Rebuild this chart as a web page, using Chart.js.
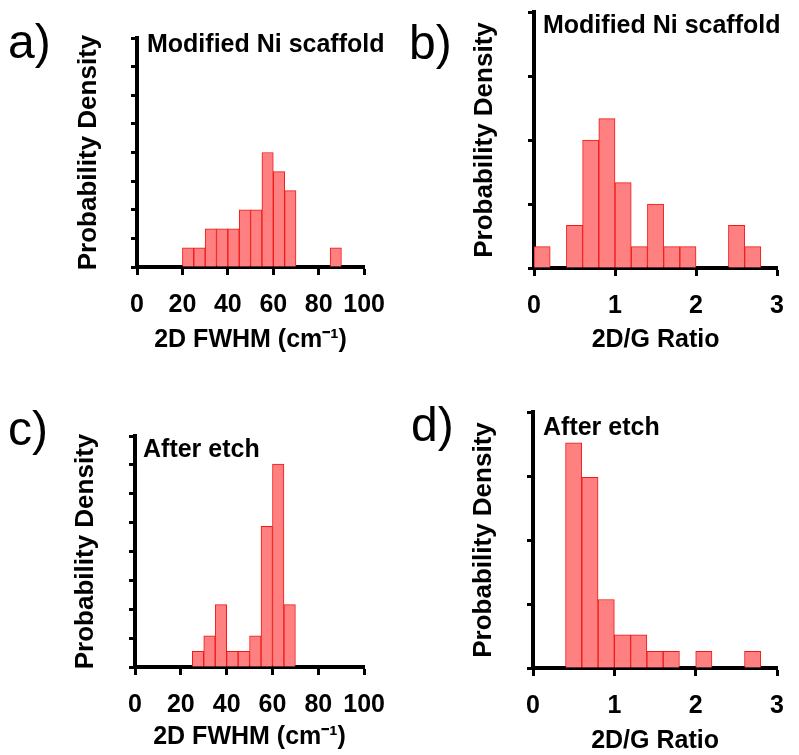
<!DOCTYPE html>
<html>
<head>
<meta charset="utf-8">
<script src="https://cdn.jsdelivr.net/npm/chart.js@4.4.1/dist/chart.umd.min.js"></script>
<style>
  body { margin: 0; width: 799px; height: 755px; overflow: hidden; background: #fff; position: relative;
         font-family: 'Liberation Sans', Arial, sans-serif; color: #000; }
  canvas { position: absolute; }
  .letter { position: absolute; font-size: 48px; line-height: 48px; }
  .inner { position: absolute; font-size: 25px; line-height: 25px; font-weight: bold; white-space: nowrap; }
</style>
</head>
<body>
<canvas id="chart-a" width="400" height="378" style="left:0;top:0"></canvas>
<canvas id="chart-b" width="399" height="378" style="left:400px;top:0"></canvas>
<canvas id="chart-c" width="400" height="377" style="left:0;top:378px"></canvas>
<canvas id="chart-d" width="399" height="377" style="left:400px;top:378px"></canvas>

<div class="letter" style="left:8px;top:18px">a)</div>
<div class="letter" style="left:409px;top:19px">b)</div>
<div class="letter" style="left:8px;top:405px">c)</div>
<div class="letter" style="left:411px;top:401px">d)</div>

<div class="inner" style="left:147px;top:31px">Modified Ni scaffold</div>
<div class="inner" style="left:543px;top:12px">Modified Ni scaffold</div>
<div class="inner" style="left:143px;top:436px">After etch</div>
<div class="inner" style="left:543px;top:414px">After etch</div>

<script>
// a) 2D FWHM, modified Ni scaffold (bin start, probability density)
const fwhmBinsA = [20, 25, 30, 35, 40, 45, 50, 55, 60, 65, 85];
const fwhmDensityA = [0.0067, 0.0067, 0.0133, 0.0133, 0.0133, 0.02, 0.02, 0.04, 0.0333, 0.0267, 0.0067];

// b) 2D/G ratio, modified Ni scaffold
const ratioBinsB = [0, 0.4, 0.6, 0.8, 1.0, 1.2, 1.4, 1.6, 1.8, 2.4, 2.6];
const ratioDensityB = [0.167, 0.333, 1.0, 1.167, 0.667, 0.167, 0.5, 0.167, 0.167, 0.333, 0.167];

// c) 2D FWHM, after etch
const fwhmBinsC = [25, 30, 35, 40, 45, 50, 55, 60, 65];
const fwhmDensityC = [0.0054, 0.0108, 0.0216, 0.0054, 0.0054, 0.0108, 0.0487, 0.0703, 0.0216];

// d) 2D/G ratio, after etch
const ratioBinsD = [0.4, 0.6, 0.8, 1.0, 1.2, 1.4, 1.6, 2.0, 2.6];
const ratioDensityD = [1.76, 1.49, 0.535, 0.26, 0.26, 0.13, 0.13, 0.13, 0.13];

const fwhmAxis = { max: 100, step: 20, bin: 5, title: '2D FWHM (cm\u207B\u00B9)' };
const ratioAxis = { max: 3, step: 1, bin: 0.2, title: '2D/G Ratio' };

Chart.defaults.font.family = "'Liberation Sans', Arial, sans-serif";
Chart.defaults.color = '#000';

function histo(id, bins, density, axis, yMax, yStep, box) {
    const pts = bins.map((b, i) => ({ x: b + axis.bin / 2, y: density[i] }));
    return new Chart(document.getElementById(id).getContext('2d'), {
        type: 'bar',
        data: { datasets: [{
            data: pts,
            backgroundColor: '#ff8080',
            borderColor: '#f01818',
            borderWidth: 1,
            barPercentage: 1,
            categoryPercentage: 1
        }] },
        options: {
            responsive: false,
            animation: false,
            layout: { padding: { top: box.top, right: box.right, bottom: box.bottom, left: 0 } },
            plugins: { legend: { display: false }, tooltip: { enabled: false } },
            scales: {
                x: {
                    type: 'linear', min: 0, max: axis.max, offset: false,
                    grid: { display: true, offset: false, drawOnChartArea: false, drawTicks: true,
                            tickLength: 8, tickWidth: 3, tickColor: '#000' },
                    border: { display: true, color: '#000', width: 4 },
                    ticks: { stepSize: axis.step, padding: 15, maxRotation: 0, autoSkip: false,
                             font: { size: 25, weight: 'bold' }, color: '#000' },
                    title: { display: true, text: axis.title, color: '#000', padding: { top: 0, bottom: 0 },
                             font: { size: 25, weight: 'bold', lineHeight: 1 } },
                    afterFit: (s) => { s.height = box.xh; }
                },
                y: {
                    min: 0, max: yMax,
                    grid: { display: true, drawOnChartArea: false, drawTicks: true,
                            tickLength: 6, tickWidth: 3, tickColor: '#000' },
                    border: { display: true, color: '#000', width: 4 },
                    ticks: { stepSize: yStep, display: false },
                    title: { display: true, text: 'Probability Density', color: '#000',
                             padding: { top: box.yt, bottom: 0 },
                             font: { size: 26, weight: 'bold', lineHeight: 1 } },
                    afterFit: (s) => { s.width = box.yw; }
                }
            }
        }
    });
}

histo('chart-a', fwhmBinsA, fwhmDensityA, fwhmAxis, 0.08, 0.01,
      { top: 38, right: 30, bottom: 25.5, xh: 85.5, yw: 137, yt: 76 });
histo('chart-b', ratioBinsB, ratioDensityB, ratioAxis, 2, 0.5,
      { top: 12, right: 8, bottom: 25.5, xh: 84.5, yw: 134, yt: 72 });
histo('chart-c', fwhmBinsC, fwhmDensityC, fwhmAxis, 0.08, 0.01,
      { top: 58, right: 34, bottom: 5, xh: 83, yw: 135, yt: 73 });
histo('chart-d', ratioBinsD, ratioDensityD, ratioAxis, 2, 0.5,
      { top: 34, right: 8, bottom: 1, xh: 86, yw: 133, yt: 71 });
</script>
</body>
</html>
